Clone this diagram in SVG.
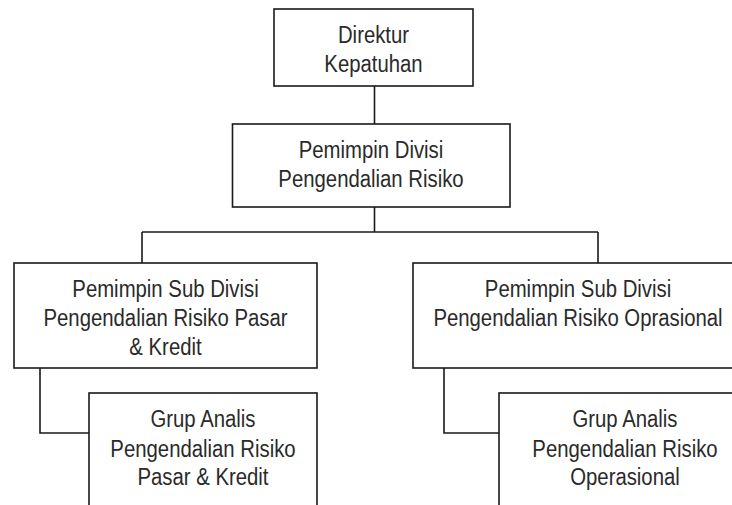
<svg xmlns="http://www.w3.org/2000/svg" width="732" height="505" viewBox="0 0 732 505">
<style>
.box{fill:#fff;stroke:#1a1a1a;stroke-width:1.6}
.conn{fill:none;stroke:#1a1a1a;stroke-width:1.6}
text{font-family:"Liberation Sans",Arial,sans-serif;font-size:24.5px;fill:#2a2a2a;text-anchor:middle}
</style>
<rect width="732" height="505" fill="#fff"/>
<g id="connectors">
<path class="conn" d="M374.5 86V124"/>
<path class="conn" d="M374.5 207V232M142 232H598M142 232V263M598 232V263"/>
<path class="conn" d="M40 368V433H89"/>
<path class="conn" d="M444 368V433H499"/>
</g>
<g id="direktur">
<rect class="box" x="274" y="9" width="199" height="77"/>
<text transform="translate(373.5 43) scale(0.83 1)">Direktur</text>
<text transform="translate(373.5 72) scale(0.83 1)">Kepatuhan</text>
</g>
<g id="divisi">
<rect class="box" x="232.5" y="124" width="277.5" height="83"/>
<text transform="translate(371 157.5) scale(0.83 1)">Pemimpin Divisi</text>
<text transform="translate(371 186.5) scale(0.83 1)">Pengendalian Risiko</text>
</g>
<g id="sub-pasar">
<rect class="box" x="14" y="263" width="303" height="105"/>
<text transform="translate(165.5 297) scale(0.83 1)">Pemimpin Sub Divisi</text>
<text transform="translate(165.5 326) scale(0.83 1)">Pengendalian Risiko Pasar</text>
<text transform="translate(165.5 355) scale(0.83 1)">&amp; Kredit</text>
</g>
<g id="sub-operasional">
<rect class="box" x="413" y="263" width="330" height="105"/>
<text transform="translate(578 297) scale(0.83 1)">Pemimpin Sub Divisi</text>
<text transform="translate(578 326) scale(0.83 1)">Pengendalian Risiko Oprasional</text>
</g>
<g id="grup-pasar">
<rect class="box" x="89" y="393" width="228" height="130"/>
<text transform="translate(203 427) scale(0.83 1)">Grup Analis</text>
<text transform="translate(203 456.5) scale(0.83 1)">Pengendalian Risiko</text>
<text transform="translate(203 485) scale(0.83 1)">Pasar &amp; Kredit</text>
</g>
<g id="grup-operasional">
<rect class="box" x="499" y="393" width="252" height="130"/>
<text transform="translate(625 427) scale(0.83 1)">Grup Analis</text>
<text transform="translate(625 456.5) scale(0.83 1)">Pengendalian Risiko</text>
<text transform="translate(625 485) scale(0.83 1)">Operasional</text>
</g>
</svg>
